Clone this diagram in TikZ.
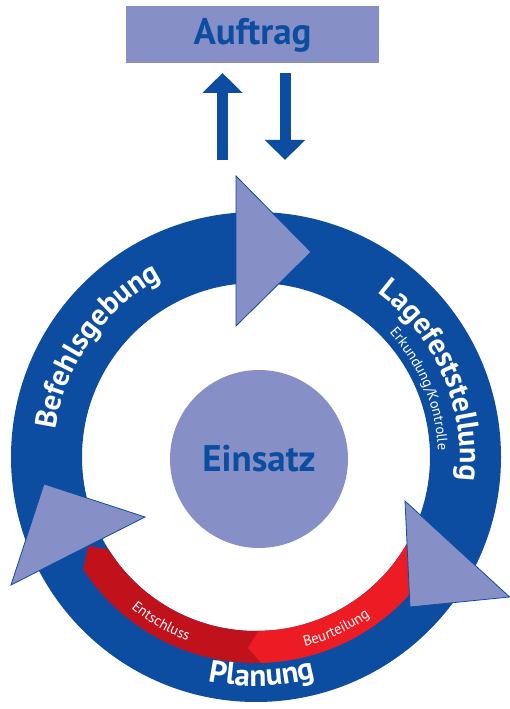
\documentclass[tikz,border=0pt]{standalone}
\usepackage{fontspec}
\setmainfont{PT Sans}
\usetikzlibrary{arrows.meta,decorations.text,positioning}

\definecolor{ringblue}{HTML}{0D4DA1}
\definecolor{paleblue}{HTML}{8690C7}
\definecolor{entred}{HTML}{C1121C}
\definecolor{beured}{HTML}{ED1C24}

\newcommand{\bigring}{\fontsize{30}{30}\selectfont\bfseries}
\newcommand{\smallring}{\fontsize{14.5}{14.5}\selectfont}

\begin{document}
\begin{tikzpicture}[x=1pt,y=1pt,
  box/.style={rectangle,fill=paleblue,text=ringblue,font=\fontsize{37}{37}\selectfont\bfseries},
  wedge/.style={fill=paleblue,draw=ringblue,line width=0.8pt,line join=miter},
  flow/.style={draw=ringblue,line width=11pt,-{Triangle[width=39pt,length=20pt]}},
  arclabel/.style={decorate,decoration={text along path,text align=center,text color=white,text={#1}}}]
\useasboundingbox (0,0) rectangle (510,709);

\node[box,minimum width=253pt,minimum height=57pt] at (252.5,674) (auftrag) {Auftrag};

\coordinate (upfoot) at (222.5,549);
\coordinate (uptip) at (222.5,636);
\coordinate (downtop) at (285,636);
\coordinate (downtip) at (285,549);
\draw[flow] (upfoot) -- (uptip);
\draw[flow] (downtop) -- (downtip);

\begin{scope}[shift={(256,252)}]
\fill[ringblue,even odd rule] (0,0) circle (245pt) (0,0) circle (174pt);

\fill[entred] (208:190pt) -- (212:174pt) arc[start angle=212,end angle=275,radius=174pt]
  -- (275:206pt) arc[start angle=275,end angle=213,radius=206pt] -- cycle;
\fill[beured] (267.6:191pt) -- (270.8:174pt) arc[start angle=270.8,end angle=330,radius=174pt]
  -- (330:206pt) arc[start angle=330,end angle=271.4,radius=206pt] -- cycle;

\path[arclabel={|\bigring|Befehlsgebung}] (185:202pt) arc[start angle=185,end angle=105,radius=202pt];
\path[arclabel={|\bigring|Lagefeststellung}] (70:204pt) arc[start angle=70,end angle=-23,radius=204pt];
\path[arclabel={|\smallring|Erkundung/Kontrolle}] (65:182pt) arc[start angle=65,end angle=-20,radius=182pt];
\path[arclabel={|\fontsize{31}{31}\selectfont\bfseries|Planung}] (240:229pt) arc[start angle=240,end angle=303,radius=229pt];
\path[arclabel={|\smallring|Entschluss}] (215:196pt) arc[start angle=215,end angle=265,radius=196pt];
\path[arclabel={|\smallring|Beurteilung}] (270:196pt) arc[start angle=270,end angle=320,radius=196pt];
\end{scope}

\node[circle,fill=paleblue,text=ringblue,minimum size=178pt,inner sep=0pt,
  font=\fontsize{37}{37}\selectfont\bfseries] at (259,250) (einsatz) {Einsatz};

\filldraw[wedge] (236,533) -- (311,457) -- (236,383) -- cycle;
\filldraw[wedge] (44,225) -- (145,192) -- (11,124) -- cycle;
\filldraw[wedge] (405,208) -- (509.6,112) -- (410,102) -- cycle;
\end{tikzpicture}
\end{document}
